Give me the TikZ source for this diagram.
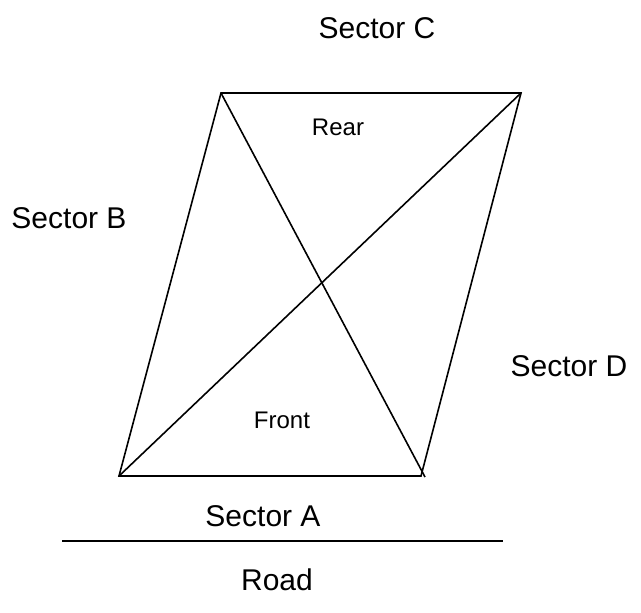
\documentclass[tikz,border=0pt]{standalone}
\usepackage{fontspec}
\setmainfont{Liberation Sans}
\usetikzlibrary{positioning}
\tikzset{
  secLabel/.style={inner sep=0pt, font=\fontsize{22.5}{26}\selectfont},
  endLabel/.style={inner sep=0pt, font=\fontsize{18}{21}\selectfont},
  edgeLine/.style={draw=black, line width=1.2pt, line join=miter}
}

\begin{document}
\begin{tikzpicture}[x=0.75pt,y=-0.75pt]
  \useasboundingbox (0,0) rectangle (641,612);
  % corners of the lot
  \coordinate (bl) at (119,476);
  \coordinate (br) at (421,476);
  \coordinate (tr) at (521,93);
  \coordinate (tl) at (221,93);
  \coordinate (diagEnd) at (425,477);
  \coordinate (roadL) at (62,541);
  \coordinate (roadR) at (503,541);

  \draw[edgeLine] (bl) -- (br) -- (tr) -- (tl) -- cycle;
  \draw[edgeLine] (bl) -- (tr);
  \draw[edgeLine] (tl) -- (diagEnd);
  \draw[edgeLine] (roadL) -- (roadR);

  \node[secLabel] (secC) at (377,28) {Sector C};
  \node[secLabel] (secB) at (69,218) {Sector B};
  \node[secLabel] (secD) at (569,366) {Sector D};
  \node[secLabel] (secA) at (263,516) {Sector A};
  \node[secLabel] (road) at (277,580) {Road};
  \node[endLabel] (rear) at (338,127) {Rear};
  \node[endLabel] (front) at (282,420) {Front};
\end{tikzpicture}
\end{document}
